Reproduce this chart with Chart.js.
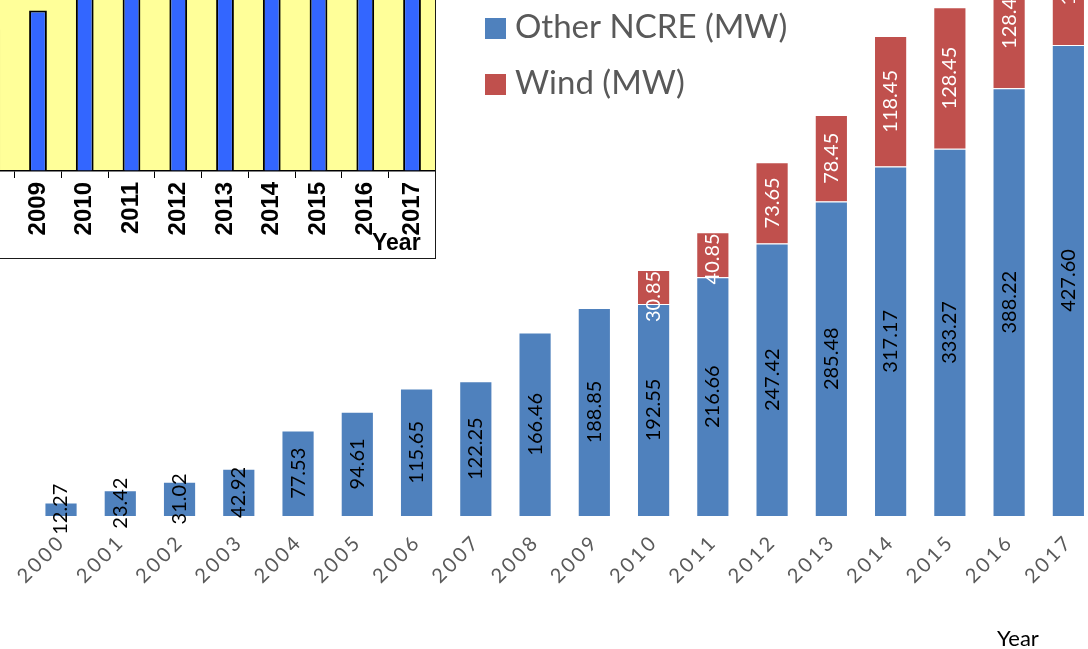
<!DOCTYPE html>
<html>
<head>
<meta charset="utf-8">
<script src="https://cdn.jsdelivr.net/npm/chart.js@4.4.1/dist/chart.umd.min.js"></script>
<style>
  html, body { margin: 0; padding: 0; background: #fff; overflow: hidden; width: 1088px; height: 649px; }
  #main { position: absolute; left: 0; top: 0; }
  #inset { position: absolute; left: 0; top: 0; width: 435px; height: 258px; overflow: hidden; background: #fff;
           border-right: 1px solid #1a1a1a; border-bottom: 1px solid #1a1a1a; }
  #insetChart { position: absolute; left: -33px; top: 0; }
</style>
</head>
<body>
<canvas id="main" width="1098" height="649"></canvas>
<div id="inset"><canvas id="insetChart" width="470" height="258"></canvas></div>
<script>
// Données du graphique principal
const years = ['2000', '2001', '2002', '2003', '2004', '2005', '2006', '2007', '2008',
               '2009', '2010', '2011', '2012', '2013', '2014', '2015', '2016', '2017'];
const otherNcre = [12.27, 23.42, 31.02, 42.92, 77.53, 94.61, 115.65, 122.25, 166.46,
                   188.85, 192.55, 216.66, 247.42, 285.48, 317.17, 333.27, 388.22, 427.60];
const wind = [null, null, null, null, null, null, null, null, null,
              null, 30.85, 40.85, 73.65, 78.45, 118.45, 128.45, 128.45, 128.45];
const seriesNames = ['Other NCRE (MW)', 'Wind (MW)'];
const seriesColors = ['#4F81BD', '#C0504D'];
const labelColors = ['#000000', '#ffffff'];

// Données du petit graphique (coin supérieur gauche)
const insetYears = ['2008', '2009', '2010', '2011', '2012', '2013', '2014', '2015', '2016', '2017'];
const insetTotals = [166.46, 188.85, 223.40, 257.51, 321.07, 363.93, 435.62, 461.72, 516.67, 556.05];

// Espacement des lettres des années sur l'axe x
const tickSpacing = {
  id: 'tickSpacing',
  beforeDraw(chart) { chart.ctx.letterSpacing = '3px'; },
  beforeDatasetsDraw(chart) { chart.ctx.letterSpacing = '0px'; }
};

// Valeurs écrites verticalement dans les barres
const barLabels = {
  id: 'barLabels',
  afterDatasetsDraw(chart) {
    const ctx = chart.ctx;
    ctx.save();
    ctx.font = '20px Lato';
    ctx.textAlign = 'center';
    ctx.textBaseline = 'middle';
    chart.data.datasets.forEach((ds, i) => {
      chart.getDatasetMeta(i).data.forEach((bar, j) => {
        const v = ds.data[j];
        if (!v) return;
        const txt = v.toFixed(2);
        const w = ctx.measureText(txt).width;
        let cy = (bar.y + bar.base) / 2;
        // le texte blanc ne doit pas dépasser le haut du segment rouge
        if (i === 1 && cy - w / 2 < bar.y) cy = bar.y + w / 2 + 1;
        ctx.save();
        ctx.translate(bar.x, cy);
        ctx.rotate(-Math.PI / 2);
        ctx.fillStyle = labelColors[i];
        ctx.fillText(txt, 0, 0);
        ctx.restore();
      });
    });
    ctx.restore();
  }
};

// Légende et titre d'axe
const legendBox = {
  id: 'legendBox',
  afterDraw(chart) {
    const ctx = chart.ctx;
    ctx.save();
    ctx.letterSpacing = '0px';
    ctx.textBaseline = 'alphabetic';
    ctx.font = '33px Lato';
    chart.data.datasets.forEach((ds, i) => {
      const y = 18 + i * 56;
      ctx.fillStyle = ds.backgroundColor;
      ctx.fillRect(485, y, 21, 21);
      ctx.fillStyle = '#595959';
      ctx.fillText(ds.label, 515, y + 20);
    });
    ctx.font = '22px Lato';
    ctx.fillStyle = '#000';
    ctx.fillText('Year', 997, 646);
    ctx.restore();
  }
};

new Chart(document.getElementById('main'), {
  type: 'bar',
  data: {
    labels: years,
    datasets: [
      { label: seriesNames[0], data: otherNcre, backgroundColor: seriesColors[0], borderColor: '#fff', borderWidth: 1 },
      { label: seriesNames[1], data: wind, backgroundColor: seriesColors[1], borderColor: '#fff', borderWidth: 1 }
    ]
  },
  options: {
    responsive: false,
    animation: false,
    layout: { padding: { left: 31.4, right: 0, top: 0, bottom: 0 } },
    datasets: { bar: { categoryPercentage: 1, barPercentage: 0.56 } },
    plugins: { legend: { display: false }, tooltip: { enabled: false } },
    scales: {
      x: {
        stacked: true,
        grid: { display: false },
        border: { display: false },
        ticks: { color: '#595959', font: { family: 'Lato', size: 20 }, minRotation: 45, maxRotation: 45,
                 padding: 6, labelOffset: 1 },
        afterFit: s => { s.height = 133; s.paddingLeft = 0; s.paddingRight = 0; }
      },
      y: { stacked: true, display: false, min: 0, max: 468.4 }
    }
  },
  plugins: [tickSpacing, barLabels, legendBox]
});

// Fond jaune et cadre du petit graphique
const insetFrame = {
  id: 'insetFrame',
  beforeDraw(chart) {
    const a = chart.chartArea;
    chart.ctx.save();
    chart.ctx.fillStyle = '#FFFF99';
    chart.ctx.fillRect(a.left, a.top, a.right - a.left, a.bottom - a.top);
    chart.ctx.restore();
  },
  afterDraw(chart) {
    const ctx = chart.ctx;
    ctx.save();
    ctx.font = 'bold 23px "Liberation Sans"';
    ctx.fillStyle = '#000';
    ctx.fillText('Year', 372 + 33, 250);
    ctx.restore();
  }
};

new Chart(document.getElementById('insetChart'), {
  type: 'bar',
  data: {
    labels: insetYears,
    datasets: [{ data: insetTotals, backgroundColor: '#3366FF', borderColor: '#000', borderWidth: 2,
                 categoryPercentage: 1, barPercentage: 0.38 }]
  },
  options: {
    responsive: false,
    animation: false,
    layout: { padding: { left: 0.85, right: 1.6, top: 0, bottom: 0 } },
    plugins: { legend: { display: false }, tooltip: { enabled: false } },
    scales: {
      x: {
        grid: { drawOnChartArea: false, color: '#000', tickLength: 7, offset: true },
        border: { color: '#000', width: 1.5 },
        ticks: { color: '#000', font: { family: 'Liberation Sans', size: 24, weight: 'bold' },
                 minRotation: 90, maxRotation: 90, padding: 4 },
        afterFit: s => { s.height = 87; s.paddingLeft = 0; s.paddingRight = 0; }
      },
      y: {
        min: 0, max: 201.2,
        ticks: { display: false, stepSize: 100 },
        grid: { color: c => c.tick.value === 100 ? '#000' : 'rgba(0,0,0,0)', drawTicks: false },
        border: { display: false },
        afterFit: s => { s.width = 0; }
      }
    }
  },
  plugins: [insetFrame]
});
</script>
</body>
</html>
